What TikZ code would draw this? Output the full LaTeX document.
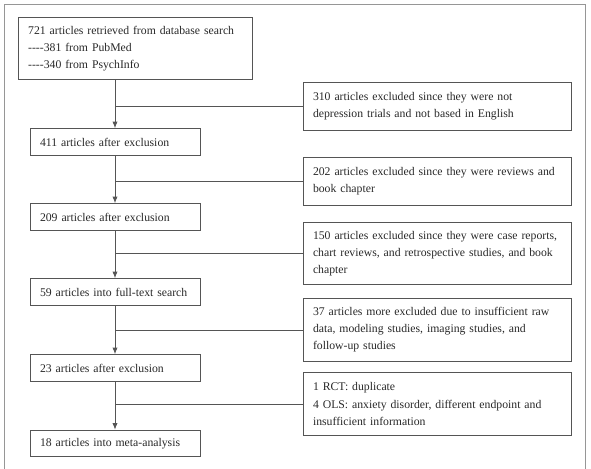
\documentclass[tikz,border=0pt]{standalone}
\usepackage{fontspec}
\setmainfont{Liberation Serif}
\usetikzlibrary{arrows.meta}
\definecolor{frame-gray}{RGB}{150, 150, 150}
\definecolor{box-gray}{RGB}{85, 85, 85}
\definecolor{text-gray}{RGB}{40, 40, 40}

\begin{document}
\begin{tikzpicture}[x=0.75pt, y=-0.75pt,
    every node/.style={font=\fontsize{8.8}{12.8}\selectfont, text=text-gray},
    box/.style={draw=box-gray, line width=0.7pt, align=left, inner xsep=7.5pt, inner ysep=0pt},
    main/.style={box, text width=112.5pt, minimum height=20pt},
    excl/.style={box, text width=186pt},
    flow/.style={draw=box-gray, line width=0.7pt}]
                \useasboundingbox (0,0) rectangle (591,468);
                \draw [frame-gray, line width=1.2pt] (4.5,470) -- (4.5,4.5) -- (585.5,4.5) -- (585.5,470);
                \node [box, text width=161pt, minimum height=47pt] (721) at (135.5,48.5)
                    {721 articles retrieved from database search\\{-}{-}{-}{-}381 from PubMed\\{-}{-}{-}{-}340 from PsychInfo};
                \node [main] (411) at (115,142) {411 articles after exclusion};
                \node [main] (209) at (115,217) {209 articles after exclusion};
                \node [main] (59) at (115,292) {59 articles into full-text search};
                \node [main] (23) at (115,368) {23 articles after exclusion};
                \node [main] (18) at (115,443.5) {18 articles into meta-analysis};
                \node [excl, minimum height=36pt] (310) at (437,106)
                    {310 articles excluded since they were not\\depression trials and not based in English};
                \node [excl, minimum height=36pt] (202) at (437,181)
                    {202 articles excluded since they were reviews and\\book chapter};
                \node [excl, minimum height=47pt] (150) at (437,253.5)
                    {150 articles excluded since they were case reports,\\chart reviews, and retrospective studies, and book\\chapter};
                \node [excl, minimum height=47.5pt] (37) at (437,330)
                    {37 articles more excluded due to insufficient raw\\data, modeling studies, imaging studies, and\\follow-up studies};
                \node [excl, minimum height=47pt] (5) at (437,404)
                    {1 RCT: duplicate\\4 OLS: anxiety disorder, different endpoint and\\insufficient information};
                \draw [flow, -{Latex[length=5pt, width=4pt]}] (721.south -| 411) -- (411);
                \draw [flow, -{Latex[length=5pt, width=4pt]}] (411) -- (209);
                \draw [flow, -{Latex[length=5pt, width=4pt]}] (209) -- (59);
                \draw [flow, -{Latex[length=5pt, width=4pt]}] (59) -- (23);
                \draw [flow, -{Latex[length=5pt, width=4pt]}] (23) -- (18);
                \draw [flow] (310.west) -- (310.west -| 411)
                             (202.west) -- (202.west -| 411)
                             (150.west) -- (150.west -| 411)
                             (37.west) -- (37.west -| 411)
                             (5.west) -- (5.west -| 411);
            \end{tikzpicture}
\end{document}
